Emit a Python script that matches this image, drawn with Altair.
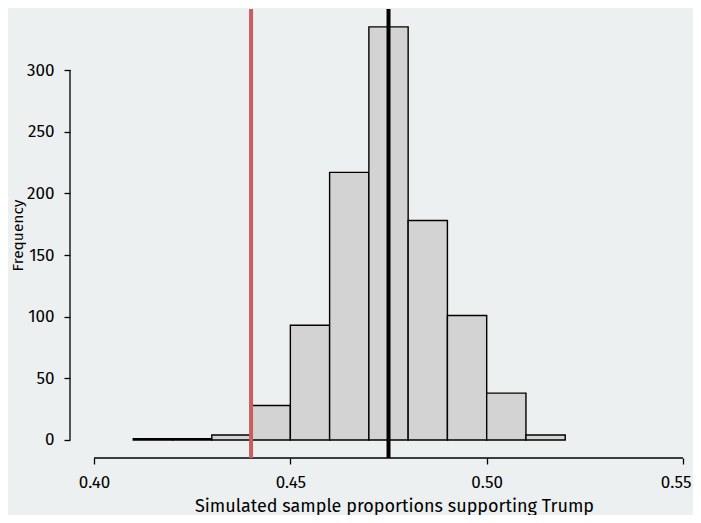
import altair as alt
import pandas as pd

bin_start = [0.41, 0.42, 0.43, 0.44, 0.45, 0.46, 0.47, 0.48, 0.49, 0.50, 0.51]
counts = [1, 1, 4, 28, 93, 217, 335, 178, 101, 38, 4]
observed = 0.44
mean_sim = 0.475
x_ticks = [0.40, 0.45, 0.50, 0.55]
y_ticks = [0, 50, 100, 150, 200, 250, 300]

df = pd.DataFrame({"start": bin_start, "end": [round(s + 0.01, 2) for s in bin_start], "count": counts})

W, H = 615, 449
FONT = "Fira Sans, Roboto, sans-serif"

xscale = alt.Scale(domain=[0.39389, 0.5505], nice=False, zero=False)
yscale = alt.Scale(domain=[-14.6, 349.5], nice=False, zero=False)

bars = alt.Chart(df).mark_rect(fill="#D3D3D3", stroke="black", strokeWidth=1.4).encode(
    x=alt.X("start:Q", scale=xscale,
            axis=alt.Axis(values=x_ticks, format=".2f", domain=False, grid=False, tickSize=6,
                          tickColor="black", tickWidth=1.3, labelPadding=10, labelFontSize=17,
                          labelFont=FONT, labelColor="black", labelFlush=3, labelFlushOffset=8,
                          title="Simulated sample proportions supporting Trump",
                          titleFont=FONT, titleFontSize=18, titleFontWeight="normal",
                          titleColor="black", titleX=324, titleY=53, titleAnchor="middle",
                          titleBaseline="alphabetic")),
    x2="end:Q",
    y=alt.Y("count:Q", scale=yscale,
            axis=alt.Axis(values=y_ticks, domain=False, grid=False, tickSize=6,
                          tickColor="black", tickWidth=1.3, labelPadding=10, labelFontSize=17,
                          labelFont=FONT, labelColor="black", labelAngle=0,
                          title="Frequency", titleFont=FONT, titleFontSize=15.5,
                          titleFontWeight="normal", titleColor="black",
                          titleX=-45, titleY=226, titleBaseline="bottom", titleAngle=-90)),
    y2=alt.datum(0),
)

xaxis_line = alt.Chart(pd.DataFrame({"a": [x_ticks[0]], "b": [x_ticks[-1]]})).mark_rule(
    color="black", strokeWidth=1.3).encode(
    x=alt.X("a:Q", scale=xscale), x2="b:Q", y=alt.value(H))

yaxis_line = alt.Chart(pd.DataFrame({"a": [y_ticks[0]], "b": [y_ticks[-1]]})).mark_rule(
    color="black", strokeWidth=1.3).encode(
    y=alt.Y("a:Q", scale=yscale), y2="b:Q", x=alt.value(0))

red = alt.Chart(pd.DataFrame({"v": [observed]})).mark_rule(color="#CD5C5C", strokeWidth=4).encode(
    x=alt.X("v:Q", scale=xscale))
blk = alt.Chart(pd.DataFrame({"v": [mean_sim]})).mark_rule(color="black", strokeWidth=4).encode(
    x=alt.X("v:Q", scale=xscale))

chart = alt.layer(bars, xaxis_line, yaxis_line, red, blk).properties(
    width=W, height=H, background="#ECF0F1",
    autosize=alt.AutoSizeParams(type="none"),
    padding={"left": 62, "top": 1, "right": 8, "bottom": 57},
).configure_view(stroke=None)

chart.save("out.html", embed_options={"renderer": "svg", "actions": False})
